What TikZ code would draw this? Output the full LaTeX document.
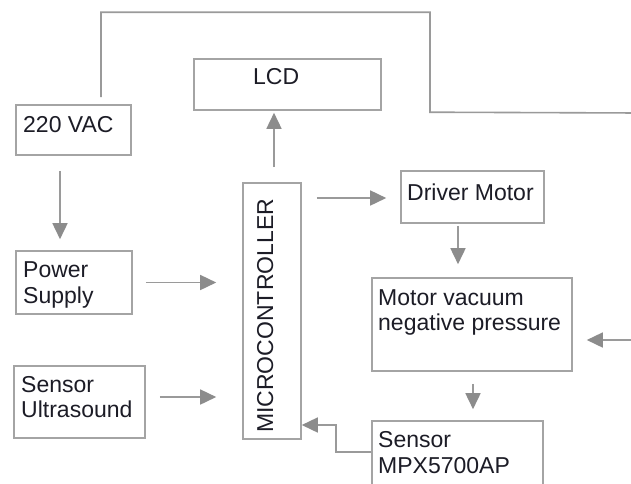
\documentclass[tikz,border=0pt]{standalone}
\usepackage{fontspec}
\setmainfont{Liberation Sans}
\usetikzlibrary{arrows.meta,calc}
\definecolor{linegray}{HTML}{9A9A9A}
\definecolor{boxgray}{HTML}{A4A4A4}
\definecolor{headgray}{HTML}{8C8C8C}
\definecolor{txt}{HTML}{1C1C26}
\tikzset{
  box/.style={draw=boxgray,line width=1.6pt,inner sep=0pt,rectangle},
  lbl/.style={anchor=base west,inner sep=0pt,text=txt,font=\fontsize{23}{26}\selectfont},
  conn/.style={draw=linegray,line width=1.6pt},
  arr/.style={conn,-{Triangle[length=16pt,width=15pt,color=headgray]}},
}
\begin{document}
\begin{tikzpicture}[x=1pt,y=-1pt]
\useasboundingbox (0,0) rectangle (631,483);
\clip (0,0) rectangle (631,483);
\fill[white] (0,0) rectangle (631,483);

% boxes
\node[box,minimum width=115pt,minimum height=50pt] (vac) at (73.5,130) {};
\node[box,minimum width=187pt,minimum height=51pt] (lcd) at (287.5,84.5) {};
\node[box,minimum width=116pt,minimum height=63pt] (ps) at (74,282.5) {};
\node[box,minimum width=131pt,minimum height=72pt] (su) at (79.5,402) {};
\node[box,minimum width=58pt,minimum height=256pt] (mcu) at (272,311) {};
\node[box,minimum width=143pt,minimum height=52pt] (drv) at (472.5,197) {};
\node[box,minimum width=200pt,minimum height=93pt] (mv) at (472,324.5) {};
\node[box,minimum width=171pt,minimum height=90pt] (mpx) at (457.5,466) {};

% texts
\node[lbl] (tvac) at (23,132) {220 VAC};
\node[lbl] (tlcd) at (253,84) {LCD};
\node[lbl] (tdrv) at (407,200) {Driver Motor};
\node[lbl] (tps1) at (23,277) {Power};
\node[lbl] (tps2) at (23,303) {Supply};
\node[lbl] (tsu1) at (21,392) {Sensor};
\node[lbl] (tsu2) at (21,417) {Ultrasound};
\node[lbl] (tmv1) at (378,305) {Motor vacuum};
\node[lbl] (tmv2) at (378,330) {negative pressure};
\node[lbl] (tmp1) at (378,447) {Sensor};
\node[lbl] (tmp2) at (378,473) {MPX5700AP};
\node[lbl,rotate=90] (tmcu) at (273,433) {MICROCONTROLLER};

% off-picture ends of the 220 VAC line
\coordinate (edgeA) at (640,113);
\coordinate (edgeB) at (640,340);

% connectors
\draw[conn,shorten <=7pt] ([xshift=27.5pt]vac.north) -- ++(0,-92) -- ++(329,0) -- ++(0,100) -- (edgeA);
\draw[arr,shorten >=14pt] (edgeB) -- (edgeB -| mv.east);
\draw[arr,shorten <=15pt,shorten >=11pt] ([xshift=-13.5pt]vac.south) -- ([xshift=-14pt]ps.north);
\draw[arr,shorten <=13pt,shorten >=26pt] (ps.east) -- (ps.east -| mcu.west);
\draw[arr,shorten <=14pt,shorten >=26pt] ([yshift=5pt]su.east) -- ([yshift=5pt]su.east -| mcu.west);
\draw[arr,shorten <=15pt,shorten >=2pt] ([xshift=2pt]mcu.north) -- ([xshift=2pt]mcu.north |- lcd.south);
\draw[arr,shorten <=15pt,shorten >=14pt] ([yshift=-1pt]drv.west -| mcu.east) -- ([yshift=-1pt]drv.west);
\draw[arr,shorten <=2pt,shorten >=13pt] ([xshift=-14.5pt]drv.south) -- ([xshift=-14.5pt]drv.south |- mv.north);
\draw[arr,shorten <=12pt,shorten >=11pt] ([xshift=1pt]mv.south) -- ([xshift=1pt]mv.south |- mpx.north);
\draw[arr] ($(mpx.north west)+(0,32)$) -- ++(-35,0) |- ($(mcu.east)+(0,114)$);
\end{tikzpicture}
\end{document}
